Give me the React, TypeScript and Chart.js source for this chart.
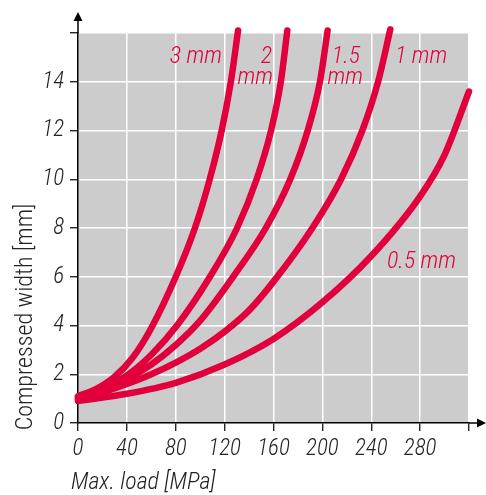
import React, { useEffect, useRef } from "react";
import { Chart, registerables } from "chart.js";

Chart.register(...registerables);

// ---- data ----
const xTicks = [0, 40, 80, 120, 160, 200, 240, 280, 320];
const yTicks = [0, 2, 4, 6, 8, 10, 12, 14, 16];

const x3mm = [0, 15, 30, 45, 60, 80, 95.7, 107.8, 117.6, 125.1, 131];
const y3mm = [1.1, 1.4, 1.9, 2.7, 3.9, 6, 8, 10, 12, 14, 16.1];

const x2mm = [0, 20, 40, 60, 81, 108, 130.2, 146.2, 158, 166, 171.3];
const y2mm = [1.05, 1.4, 1.95, 2.8, 4, 6, 8, 10, 12, 14, 16.1];

const x15mm = [0, 20, 40, 60, 80, 100, 127, 153.7, 173.7, 188, 198, 204.3];
const y15mm = [1.0, 1.35, 1.8, 2.4, 3.2, 4.2, 6, 8, 10, 12, 14, 16.1];

const x1mm = [0, 20, 40, 60, 80, 100, 120, 140, 160, 191.8, 215.3, 232.7, 245.6, 255.6];
const y1mm = [0.95, 1.25, 1.6, 2.0, 2.48, 3.05, 3.75, 4.62, 5.8, 8, 10, 12, 14, 16.15];

const x05mm = [0, 40, 80, 120, 160, 200, 240, 280, 300, 320];
const y05mm = [0.9, 1.2, 1.65, 2.4, 3.45, 4.95, 6.85, 9.3, 11, 13.6];

const seriesNames = ["3 mm", "2 mm", "1.5 mm", "1 mm", "0.5 mm"];
const seriesX = [x3mm, x2mm, x15mm, x1mm, x05mm];
const seriesY = [y3mm, y2mm, y15mm, y1mm, y05mm];

// curve labels: text, anchor in data units, alignment
const curveLabels: { text: string; x: number; y: number; align: CanvasTextAlign }[] = [
  { text: "3 mm", x: 117.8, y: 14.77, align: "right" },
  { text: "2", x: 158.8, y: 14.77, align: "right" },
  { text: "mm", x: 159.6, y: 13.9, align: "right" },
  { text: "1.5", x: 230.8, y: 14.77, align: "right" },
  { text: "mm", x: 233.2, y: 13.9, align: "right" },
  { text: "1 mm", x: 259.4, y: 14.77, align: "left" },
  { text: "0.5 mm", x: 252.9, y: 6.36, align: "left" },
];

const xTitle = "Max. load [MPa]";
const yTitle = "Compressed width [mm]";

const RED = "#e2003c";
const FONT = "'Roboto Condensed', 'Liberation Sans Narrow', Roboto, sans-serif";

const decorPlugin = {
  id: "decor",
  beforeDraw(chart: any) {
    const { ctx, chartArea } = chart;
    ctx.save();
    ctx.fillStyle = "#cccccc";
    ctx.fillRect(chartArea.left, chartArea.top, chartArea.right - chartArea.left, chartArea.bottom - chartArea.top);
    ctx.restore();
  },
  afterDraw(chart: any) {
    const { ctx, chartArea, scales } = chart;
    const l = chartArea.left;
    const b = chartArea.bottom;
    ctx.save();
    ctx.strokeStyle = "#000";
    ctx.fillStyle = "#000";
    ctx.lineWidth = 1.5;
    // y axis extension + arrow
    ctx.beginPath();
    ctx.moveTo(l, chartArea.top);
    ctx.lineTo(l, 20);
    ctx.stroke();
    ctx.beginPath();
    ctx.moveTo(l, 12);
    ctx.lineTo(l - 4.5, 21);
    ctx.lineTo(l + 4.5, 21);
    ctx.closePath();
    ctx.fill();
    // x axis extension + arrow
    ctx.beginPath();
    ctx.moveTo(chartArea.right, b);
    ctx.lineTo(478, b);
    ctx.stroke();
    ctx.beginPath();
    ctx.moveTo(486, b);
    ctx.lineTo(477, b - 4.5);
    ctx.lineTo(477, b + 4.5);
    ctx.closePath();
    ctx.fill();

    // curve labels
    ctx.fillStyle = RED;
    ctx.font = `italic 300 24px ${FONT}`;
    ctx.textBaseline = "alphabetic";
    for (const lb of curveLabels) {
      ctx.textAlign = lb.align;
      ctx.fillText(lb.text, scales.x.getPixelForValue(lb.x), scales.y.getPixelForValue(lb.y));
    }

    // axis titles
    ctx.fillStyle = "#222";
    ctx.font = `italic 300 24px ${FONT}`;
    ctx.textAlign = "left";
    ctx.fillText(xTitle, 71, 489);

    ctx.save();
    ctx.translate(32, 317);
    ctx.rotate(-Math.PI / 2);
    ctx.textAlign = "center";
    ctx.font = `300 24px ${FONT}`;
    ctx.fillText(yTitle, 0, 0);
    ctx.restore();
    ctx.restore();
  },
};

export default function App() {
  const ref = useRef<HTMLCanvasElement | null>(null);
  useEffect(() => {
    document.body.style.margin = "0";
    if (!ref.current) return;
    const datasets = seriesNames.map((name, i) => ({
      label: name,
      data: seriesX[i].map((x, j) => ({ x, y: seriesY[i][j] })),
      borderColor: RED,
      borderWidth: 6.5,
      pointRadius: 0,
      fill: false,
      cubicInterpolationMode: "monotone" as const,
      borderCapStyle: "round" as const,
      clip: false as any,
    }));
    const tickFont = { family: FONT, size: 23, style: "italic" as const, weight: "300" as any };
    const chart = new Chart(ref.current, {
      type: "line",
      data: { datasets },
      options: {
        animation: false,
        responsive: false,
        devicePixelRatio: 1,
        layout: { padding: { top: 33, right: 17, left: 0, bottom: 0 } },
        plugins: { legend: { display: false }, tooltip: { enabled: false } },
        scales: {
          x: {
            type: "linear",
            min: xTicks[0],
            max: xTicks[xTicks.length - 1],
            afterBuildTicks: (s: any) => {
              s.ticks = xTicks.map((v) => ({ value: v }));
            },
            afterFit: (s: any) => {
              s.height = 72;
            },
            ticks: {
              callback: (v: any) => (v === 320 ? "" : String(v)),
              color: "#222",
              font: tickFont,
              padding: 4,
              maxRotation: 0,
              autoSkip: false,
            },
            grid: {
              color: (c: any) => (c.tick && c.tick.value === 0 ? "rgba(0,0,0,0)" : "#ffffff"),
              lineWidth: 1.5,
              tickColor: "#000",
              tickLength: 8,
              tickWidth: 1.2,
            },
            border: { color: "#000", width: 1.5 },
          },
          y: {
            type: "linear",
            min: yTicks[0],
            max: yTicks[yTicks.length - 1],
            afterBuildTicks: (s: any) => {
              s.ticks = yTicks.map((v) => ({ value: v }));
            },
            afterFit: (s: any) => {
              s.width = 78;
            },
            ticks: {
              callback: (v: any) => (v === 16 ? "" : String(v)),
              color: "#222",
              font: tickFont,
              padding: 6,
              autoSkip: false,
            },
            grid: {
              color: (c: any) => (c.tick && c.tick.value === 0 ? "rgba(0,0,0,0)" : "#ffffff"),
              lineWidth: 1.5,
              tickColor: "#000",
              tickLength: 8,
              tickWidth: 1.2,
            },
            border: { color: "#000", width: 1.5 },
          },
        },
      },
      plugins: [decorPlugin],
    });
    return () => chart.destroy();
  }, []);
  return (
    <div style={{ width: 486, height: 495 }}>
      <canvas ref={ref} width={486} height={495} style={{ display: "block" }} />
    </div>
  );
}
